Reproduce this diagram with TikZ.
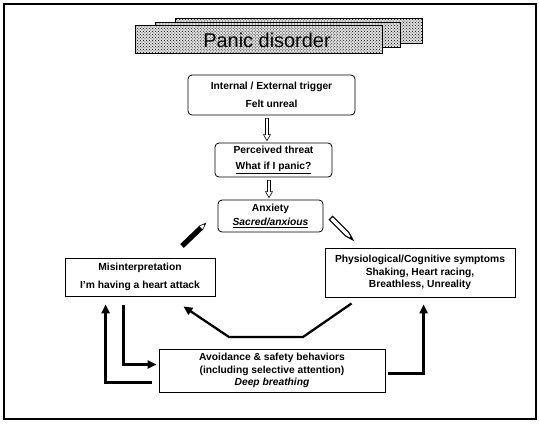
\documentclass[tikz,border=0pt]{standalone}
\usepackage{fontspec}
\setmainfont{Liberation Sans}
\usetikzlibrary{patterns,arrows.meta,calc}
\begin{document}
\begin{tikzpicture}[x=1bp,y=-1bp,
  box/.style={draw, line width=0.8bp, align=center, inner sep=0pt,
    font=\fontsize{10.3}{12.5}\selectfont\bfseries},
  rbox/.style={box, rounded corners=4bp},
  thickarr/.style={line width=2.3bp, -{Triangle[length=9bp,width=8bp]}},
  hollow/.style={line width=0.6bp, fill=white},
  banner/.style={draw, line width=0.9bp, preaction={fill=black!12}, pattern=crosshatch dots, pattern color=black}]
\useasboundingbox (0,0) rectangle (539,423);
% frame
\draw[line width=1.6bp] (4,4) rectangle (536,419);
% banner
\draw[banner] (175,18) rectangle (422,43);
\draw[banner] (155,22) rectangle (400,47);
\draw[banner] (135,25) rectangle (382,53);
\node[font=\fontsize{20}{22}\selectfont] (title) at (267,40) {Panic disorder};
% boxes
\node[rbox, minimum width=167bp, minimum height=40bp] (trig) at (271.5,95)
  {Internal / External trigger\\[5bp]Felt unreal};
\node[rbox, minimum width=117bp, minimum height=34bp] (perc) at (273.5,160)
  {Perceived threat\\[4bp]\underline{What if I panic?}};
\node[rbox, minimum width=105bp, minimum height=32bp] (anx) at (270.5,216)
  {Anxiety\\[2bp]\underline{\itshape Sacred/anxious}};
\node[box, minimum width=150bp, minimum height=38bp] (mis) at (140,277)
  {Misinterpretation\\[5bp]I'm having a heart attack};
\node[box, minimum width=190bp, minimum height=49bp] (phys) at (420,272.5)
  {Physiological/Cognitive symptoms\\Shaking, Heart racing,\\Breathless, Unreality};
\node[box, minimum width=226bp, minimum height=43bp] (avoid) at (272,370.5)
  {Avoidance \& safety behaviors\\(including selective attention)\\\itshape Deep breathing};
% hollow arrows
\foreach \a/\b in {trig/perc, perc/anx}{
  \path let \p1=(\a.south), \p2=(\b.north) in
    coordinate (s) at (\x1-4.5bp,\y1-3bp) coordinate (e) at (\x1-4.5bp,\y2+2bp);
  \draw[hollow] ($(s)+(-1.5,0)$) -- ($(e)+(-1.5,-6)$) -- ($(e)+(-3.5,-6)$) -- (e)
    -- ($(e)+(3.5,-6)$) -- ($(e)+(1.5,-6)$) -- ($(s)+(1.5,0)$) -- cycle;
}
% pencils
\coordinate (lp1) at (182,246);
\coordinate (lp2) at (206,223);
\begin{scope}[shift={(lp1)}, rotate=43.8]
  \fill[black] (0,-2.6) -- (26,-2.6) -- (26,2.6) -- (0,2.6) -- cycle;
  \draw[line width=0.6bp, fill=white] (26,-2.6) -- (33,0) -- (26,2.6) -- cycle;
  \fill (31,0) circle (0.9bp);
\end{scope}
\coordinate (rp1) at (331,218);
\coordinate (rp2) at (353,240);
\begin{scope}[shift={(rp1)}, rotate=-45]
  \draw[line width=1.1bp, fill=white] (0,-2.4) -- (23,-2.4) -- (31,0) -- (23,2.4) -- (0,2.4) -- cycle;
  \fill (27,-1.2) -- (31,0) -- (27,1.2) -- cycle;
\end{scope}
% thick arrows
\draw[thickarr] ($(mis.south west)+(59,9)$) |- ($(avoid.west)+(-2,-6)$);
\draw[thickarr] ($(avoid.west)+(-7,12)$) -| ($(mis.south west)+(41,8)$);
\draw[thickarr] ($(avoid.east)+(3,3)$) -| ($(phys.south west)+(99,7)$);
\coordinate (k1) at (303,337);
\coordinate (k2) at (229,337);
\draw[thickarr] ($(phys.south west)+(27,6)$) -- (k1) -- (k2) -- ($(mis.south east)+(-32,10)$);
\end{tikzpicture}
\end{document}
